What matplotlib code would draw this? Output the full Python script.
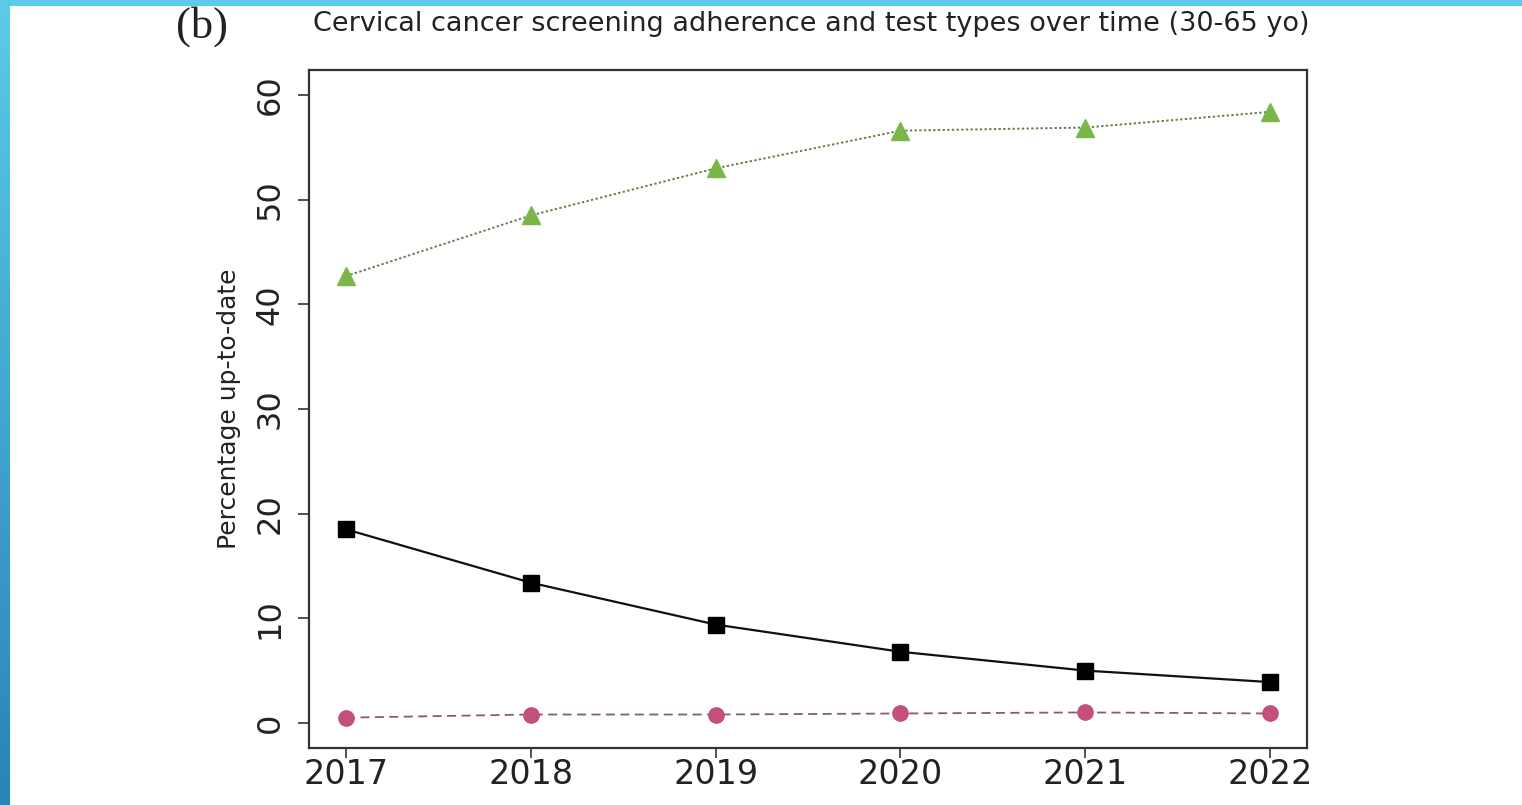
import numpy as np
import matplotlib
matplotlib.use("Agg")
import matplotlib.pyplot as plt
from matplotlib.colors import LinearSegmentedColormap

years = [2017, 2018, 2019, 2020, 2021, 2022]
any_test = [42.7, 48.5, 53.0, 56.6, 56.9, 58.4]
cytology = [18.5, 13.4, 9.4, 6.8, 5.0, 3.9]
hpv_only = [0.5, 0.8, 0.8, 0.9, 1.0, 0.9]
yticks = [0, 10, 20, 30, 40, 50, 60]

plt.rcParams['font.family'] = ['DejaVu Sans']

fig = plt.figure(figsize=(15.22, 8.05), dpi=100)
fig.patch.set_facecolor('white')

# slide frame: top band and left gradient band
top = fig.add_axes([0, 1 - 6 / 805, 1, 6 / 805])
top.set_axis_off()
top.add_patch(plt.Rectangle((0, 0), 1, 1, color='#5ccbe8', transform=top.transAxes))
left = fig.add_axes([0, 0, 10 / 1522, 1])
grad = np.linspace(0, 1, 256).reshape(-1, 1)
cmap = LinearSegmentedColormap.from_list('band', ['#2a83b6', '#5ccbe8'])
left.imshow(grad, aspect='auto', cmap=cmap, origin='lower', extent=[0, 1, 0, 1])
left.set_axis_off()

ax = fig.add_axes([309 / 1522, 1 - 748 / 805, 998 / 1522, 678 / 805])
ax.plot(years, any_test, linestyle=(0, (1.2, 1.2)), color='#62804a', linewidth=1.4,
        marker='^', markersize=13, markerfacecolor='#7ab648', markeredgecolor='#7ab648')
ax.plot(years, cytology, linestyle='-', color='#111111', linewidth=1.6,
        marker='s', markersize=11, markerfacecolor='black', markeredgecolor='black')
ax.plot(years, hpv_only, linestyle=(0, (5, 3)), color='#8a5a70', linewidth=1.3,
        marker='o', markersize=11, markerfacecolor='#c24f7c', markeredgecolor='#c24f7c')

ax.set_xlim(2016.8, 2022.2)
ax.set_ylim(-2.4, 62.4)
ax.set_xticks(years)
ax.set_xticklabels([str(y) for y in years])
ax.set_yticks(yticks)
ax.set_yticklabels([str(v) for v in yticks], rotation=90, va='center')
ax.tick_params(axis='x', length=7, width=1.2, labelsize=24, pad=0, color='#333333', labelcolor='#222222')
ax.tick_params(axis='y', length=8, width=1.2, labelsize=23, pad=9, color='#333333', labelcolor='#222222')
for s in ax.spines.values():
    s.set_linewidth(1.6)
    s.set_color('#333333')

ax.set_ylabel('Percentage up-to-date', fontsize=18, color='#222222', labelpad=10)

fig.text(811 / 1522, 1 - 24 / 805, 'Cervical cancer screening adherence and test types over time (30-65 yo)',
         ha='center', va='center', fontsize=19.5, color='#222222')
fig.text(202 / 1522, 1 - 27 / 805, '(b)', ha='center', va='center', fontsize=32,
         family=['Liberation Serif', 'DejaVu Serif'], color='#222222')

fig.savefig('out.png', dpi=100)
